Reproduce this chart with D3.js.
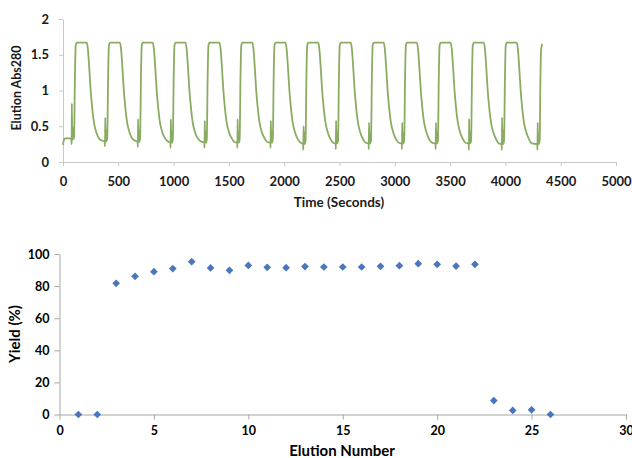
<!DOCTYPE html>
<html>
<head>
<meta charset="utf-8">
<script src="https://cdn.jsdelivr.net/npm/d3@7"></script>
<style>
html,body{margin:0;padding:0;background:#fff;}
svg{display:block;}
text{font-family:Lato,"Open Sans",sans-serif;font-weight:bold;}
</style>
</head>
<body>
<svg id="chart" width="632" height="458"></svg>
<script>
// ---------- Top chart data: elution trace (time s, Abs280) ----------
const traceTime = [
 0,8,20,60,76,78,80,83,86,90,100,108,115,125,215,225,238,250,265,280,300,322,350,
 378,380,382,385,388,391,400,408,415,425,515,525,538,550,565,580,600,622,650,
 675,677,679,682,685,688,697,705,712,722,812,822,835,847,862,877,897,919,947,
 971,973,975,978,981,984,993,1001,1008,1018,1108,1118,1131,1143,1158,1173,1193,1215,1243,
 1278,1280,1282,1285,1288,1291,1300,1308,1315,1325,1415,1425,1438,1450,1465,1480,1500,1522,1550,
 1575,1577,1579,1582,1585,1588,1597,1605,1612,1622,1712,1722,1735,1747,1762,1777,1797,1819,1847,
 1875,1877,1879,1882,1885,1888,1897,1905,1912,1922,2012,2022,2035,2047,2062,2077,2097,2119,2147,
 2171,2173,2175,2178,2181,2184,2193,2201,2208,2218,2308,2318,2331,2343,2358,2373,2393,2415,2443,
 2465,2467,2469,2472,2475,2478,2487,2495,2502,2512,2602,2612,2625,2637,2652,2667,2687,2709,2737,
 2763,2765,2767,2770,2773,2776,2785,2793,2800,2810,2900,2910,2923,2935,2950,2965,2985,3007,3035,
 3063,3065,3067,3070,3073,3076,3085,3093,3100,3110,3200,3210,3223,3235,3250,3265,3285,3307,3335,
 3368,3370,3372,3375,3378,3381,3390,3398,3405,3415,3505,3515,3528,3540,3555,3570,3590,3612,3640,
 3668,3670,3672,3675,3678,3681,3690,3698,3705,3715,3805,3815,3828,3840,3855,3870,3890,3912,3940,
 3966,3968,3970,3973,3976,3979,3988,3996,4003,4013,4103,4113,4126,4138,4153,4168,4188,4210,4238,
 4288,4290,4292,4295,4298,4301,4310,4316,4322,4332
];
const traceAbs = [
 0.24,0.31,0.33,0.33,0.32,0.25,0.82,0.30,0.50,0.32,0.34,1.20,1.63,1.67,1.67,1.58,1.30,1.00,0.74,0.55,0.42,0.34,0.30,
 0.29,0.22,0.62,0.31,0.46,0.29,0.33,1.20,1.63,1.67,1.67,1.58,1.30,1.00,0.74,0.55,0.42,0.34,0.30,
 0.28,0.21,0.60,0.30,0.45,0.28,0.32,1.20,1.63,1.67,1.67,1.58,1.30,1.00,0.74,0.55,0.42,0.34,0.29,
 0.27,0.20,0.60,0.29,0.44,0.27,0.31,1.20,1.63,1.67,1.67,1.58,1.30,1.00,0.74,0.55,0.42,0.34,0.29,
 0.27,0.20,0.58,0.29,0.44,0.27,0.31,1.20,1.63,1.67,1.67,1.58,1.30,1.00,0.74,0.55,0.42,0.34,0.28,
 0.27,0.20,0.60,0.29,0.44,0.27,0.31,1.20,1.63,1.67,1.67,1.58,1.30,1.00,0.74,0.55,0.42,0.34,0.28,
 0.27,0.20,0.58,0.29,0.44,0.27,0.31,1.20,1.63,1.67,1.67,1.58,1.30,1.00,0.74,0.55,0.42,0.33,0.27,
 0.25,0.17,0.50,0.27,0.42,0.25,0.30,1.20,1.63,1.67,1.67,1.58,1.30,1.00,0.74,0.55,0.42,0.33,0.27,
 0.26,0.18,0.58,0.28,0.42,0.26,0.30,1.20,1.63,1.67,1.67,1.58,1.30,1.00,0.74,0.55,0.42,0.33,0.27,
 0.26,0.18,0.55,0.28,0.42,0.26,0.30,1.20,1.63,1.67,1.67,1.58,1.30,1.00,0.74,0.55,0.42,0.33,0.27,
 0.26,0.18,0.55,0.28,0.42,0.26,0.30,1.20,1.63,1.67,1.67,1.58,1.30,1.00,0.74,0.55,0.42,0.33,0.27,
 0.26,0.18,0.55,0.28,0.42,0.26,0.30,1.20,1.63,1.67,1.67,1.58,1.30,1.00,0.74,0.55,0.42,0.33,0.27,
 0.26,0.17,0.60,0.28,0.42,0.26,0.30,1.20,1.63,1.67,1.67,1.58,1.30,1.00,0.74,0.55,0.42,0.33,0.26,
 0.25,0.17,0.62,0.27,0.45,0.25,0.30,1.20,1.63,1.67,1.67,1.58,1.30,1.00,0.74,0.55,0.42,0.33,0.26,
 0.25,0.17,0.55,0.27,0.40,0.25,0.30,1.10,1.55,1.65
];
const topXTicks = [0,500,1000,1500,2000,2500,3000,3500,4000,4500,5000];
const topYTicks = [0,0.5,1,1.5,2];

// ---------- Bottom chart data: yield per elution ----------
const elutionNumber = [1,2,3,4,5,6,7,8,9,10,11,12,13,14,15,16,17,18,19,20,21,22,23,24,25,26];
const yieldPct = [0,0,81.7,86.1,89.0,90.9,95.2,91.3,89.8,92.9,91.7,91.5,92.2,91.9,91.9,91.9,92.3,92.7,94.0,93.6,92.5,93.6,8.7,2.5,2.9,0];
const botXTicks = [0,5,10,15,20,25,30];
const botYTicks = [0,20,40,60,80,100];

const svg = d3.select("#chart");

// ================= TOP CHART =================
{
  const x = d3.scaleLinear().domain([0,5000]).range([63,616]);
  const y = d3.scaleLinear().domain([0,2]).range([162,19]);
  const g = svg.append("g");

  const xAxis = g.append("g").attr("transform","translate(0,"+y(0)+")")
    .call(d3.axisBottom(x).tickValues(topXTicks).tickFormat(d3.format("d")).tickSize(4).tickSizeOuter(0).tickPadding(11));
  const yAxis = g.append("g").attr("transform","translate("+x(0)+",0)")
    .call(d3.axisLeft(y).tickValues(topYTicks).tickFormat(d3.format("")).tickSize(4).tickSizeOuter(0).tickPadding(10));
  [xAxis,yAxis].forEach(a=>{
    a.select(".domain").attr("stroke","#c8c8c8").attr("stroke-width",1);
    a.selectAll(".tick line").attr("stroke","#c8c8c8");
    a.selectAll(".tick text").attr("fill","#1a1a1a").style("font-size","13px").style("font-family","Lato, sans-serif").style("font-weight","bold");
  });

  const pts = traceTime.map((t,i)=>[t,traceAbs[i]]);
  const line = d3.line().x(d=>x(d[0])).y(d=>y(d[1])).curve(d3.curveMonotoneX);
  g.append("path").datum(pts).attr("d",line)
    .attr("fill","none").attr("stroke","#8aac62").attr("stroke-width",1.8).attr("stroke-linejoin","round");

  g.append("text").attr("x",339).attr("y",207).attr("text-anchor","middle")
    .attr("fill","#1a1a1a").style("font-size","13.5px").text("Time (Seconds)");
  g.append("text").attr("transform","translate(21,88) rotate(-90)").attr("text-anchor","middle")
    .attr("fill","#1a1a1a").style("font-size","12.5px").text("Elution Abs280");
}

// ================= BOTTOM CHART =================
{
  const x = d3.scaleLinear().domain([0,30]).range([59.5,626]);
  const y = d3.scaleLinear().domain([0,100]).range([414.5,254]);
  const g = svg.append("g");

  const xAxis = g.append("g").attr("transform","translate(0,"+y(0)+")")
    .call(d3.axisBottom(x).tickValues(botXTicks).tickSize(5).tickSizeOuter(0).tickPadding(7));
  const yAxis = g.append("g").attr("transform","translate("+x(0)+",0)")
    .call(d3.axisLeft(y).tickValues(botYTicks).tickSize(5).tickSizeOuter(0).tickPadding(5));
  [xAxis,yAxis].forEach(a=>{
    a.select(".domain").attr("stroke","#a6a6a6").attr("stroke-width",1);
    a.selectAll(".tick line").attr("stroke","#a6a6a6");
    a.selectAll(".tick text").attr("fill","#000").style("font-size","12.5px").style("font-family","Lato, sans-serif").style("font-weight","bold");
  });

  const sym = d3.symbol().type(d3.symbolSquare).size(30);
  g.selectAll("path.pt").data(elutionNumber.map((n,i)=>[n,yieldPct[i]])).enter()
    .append("path").attr("class","pt")
    .attr("transform",d=>"translate("+x(d[0])+","+y(d[1])+") rotate(45)")
    .attr("d",sym).attr("fill","#4a76c0");

  g.append("text").attr("x",342).attr("y",456).attr("text-anchor","middle")
    .attr("fill","#000").style("font-size","15px").text("Elution Number");
  g.append("text").attr("transform","translate(20,334) rotate(-90)").attr("text-anchor","middle")
    .attr("fill","#000").style("font-size","15px").text("Yield (%)");
}
</script>
</body>
</html>
